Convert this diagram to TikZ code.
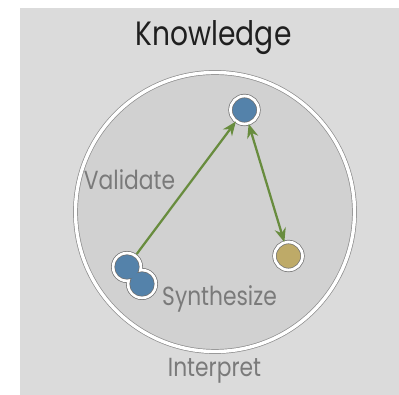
\documentclass[tikz,border=0pt]{standalone}
\usepackage{graphicx}
\usepackage{fontspec}
\setmainfont{Poppins}
\usepackage{tikz}
\usetikzlibrary{positioning, arrows, arrows.meta, shapes, calc}
\definecolor{panelgray}{RGB}{219,219,219}
\definecolor{worldgray}{RGB}{209,209,209}
\definecolor{rimgray}{RGB}{140,140,140}
\definecolor{dotblue}{RGB}{84,130,170}
\definecolor{dotgold}{RGB}{190,170,104}
\definecolor{linkgreen}{RGB}{104,140,62}
\definecolor{labelgray}{RGB}{122,122,122}
\newcommand{\tallsans}[1]{\scalebox{1}[1.2]{#1}}
\tikzstyle{world} = [circle, minimum size=6.975cm, inner sep=0pt, draw=rimgray, line width=0.5pt, double=white, double distance=2.4pt, fill=worldgray]
\tikzstyle{dot} = [circle, minimum size=0.7cm, inner sep=0pt, draw=rimgray!80!black, line width=0.5pt, double=white, double distance=2pt]
\tikzstyle{label} = [text=labelgray, font=\fontsize{15.5}{18}\selectfont, inner sep=0pt, anchor=base]
\tikzstyle{arrow} = [line width=1.6pt, draw=linkgreen, -{Stealth[length=10pt, width=8pt]}]

\begin{document}
\begin{tikzpicture}
        \useasboundingbox (0,0) rectangle (9.975,9.875);
        \fill[white] (0,0) rectangle (9.975,9.875);
        \fill[panelgray] (0.5,0) rectangle (9.975,9.675);

        \node (title) [anchor=base, inner sep=0pt, text=black!88] at (5.34,8.725) {\fontsize{20}{24}\selectfont\tallsans{Knowledge}};
        \node (circle) [world] at (5.375,4.575) {};

        \node (top) [dot, fill=dotblue] at (6.1125,7.125) {};
        \node (gold) [dot, fill=dotgold] at (7.2125,3.475) {};

        % merged pair of dots
        \node (pairA) [circle, minimum size=0.8cm, inner sep=0pt] at (3.175,3.2) {};
        \node (pairB) [circle, minimum size=0.8cm, inner sep=0pt] at (3.55,2.775) {};
        \foreach \p in {pairA, pairB} \fill[rimgray!80!black] (\p.center) circle (0.4cm);
        \foreach \p in {pairA, pairB} \fill[white] (\p.center) circle (0.382cm);
        \foreach \p in {pairA, pairB} \fill[rimgray!80!black] (\p.center) circle (0.315cm);
        \foreach \p in {pairA, pairB} \fill[dotblue] (\p.center) circle (0.297cm);

        \node (validate) [label] at (3.2375,5.125) {\tallsans{Validate}};
        \node (synth) [label] at (5.4875,2.225) {\tallsans{Synthesize}};
        \node (interp) [label] at (5.3625,0.45) {\tallsans{Interpret}};

        \draw [arrow] (pairA) -- (top);
        \draw [arrow, {Stealth[length=10pt, width=8pt]}-{Stealth[length=10pt, width=8pt]}] (top) -- (gold);
\end{tikzpicture}
\end{document}
